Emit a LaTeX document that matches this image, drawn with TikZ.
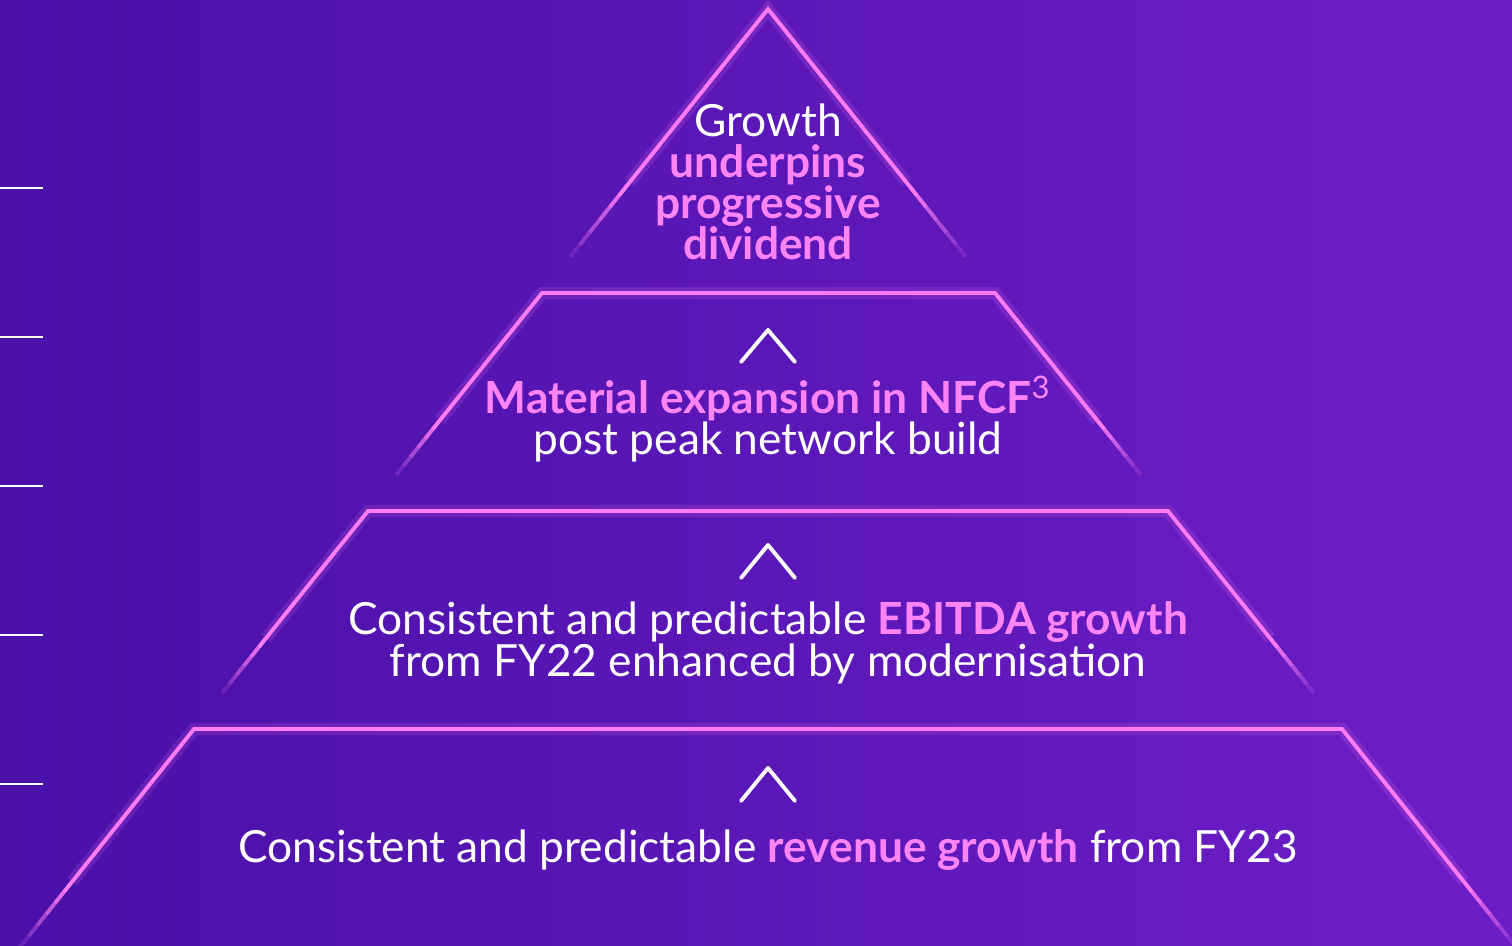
\documentclass[tikz,border=0pt]{standalone}
\usepackage{fontspec}
\setmainfont{Lato}
\usetikzlibrary{calc}

\definecolor{bgleft}{HTML}{4A10A8}
\definecolor{bgright}{HTML}{6C1EC6}
\definecolor{tierpink}{HTML}{FF7CF5}
\definecolor{textpink}{HTML}{FF84F6}

\tikzset{
  tierline/.style={draw=tierpink, line width=1.1pt, line join=miter,
    preaction={draw=tierpink, line width=3.5pt, draw opacity=0.15}},
  tierfade/.style={draw=tierpink, line width=1.1pt},
  chevron/.style={draw=white, line width=1.1pt, line cap=round, line join=round},
  tick/.style={draw=white, line width=0.6pt},
  tiertext/.style={text=white, align=center, inner sep=0pt, anchor=base,
    font=\fontsize{12.6}{11.7}\selectfont},
}
\newcommand{\hl}[1]{\textcolor{textpink}{\bfseries #1}}

% lower end of a tier side, fading out
\newcommand{\tierside}[2]{%
  \foreach \k [evaluate=\k as \a using \k/20, evaluate=\k as \b using (\k+1)/20,
      evaluate=\k as \o using (20-\k)/6] in {14,...,19}
    \draw[tierfade, draw opacity=\o] ($(#1)!\a!(#2)$) -- ($(#1)!\b!(#2)$);
}

\begin{document}
\begin{tikzpicture}[x=0.01cm, y=-0.01cm]
    \useasboundingbox (0,0) rectangle (1512,946);
    \clip (0,0) rectangle (1512,946);
    \shade[left color=bgleft, right color=bgright] (0,0) rectangle (1512,946);

    % ticks on the left edge
    \foreach \y in {188,337,486,635,784}
        \draw[tick] (0,\y) -- (43,\y);

    % Tier 1 (text nodes sit on their last baseline)
    \coordinate (t1top) at (768,9);
    \coordinate (t1bl) at (570,257); \coordinate (t1br) at (966,257);
    \draw[tierline] ($(t1top)!0.7!(t1bl)$) -- (t1top) -- ($(t1top)!0.7!(t1br)$);
    \tierside{t1top}{t1bl} \tierside{t1top}{t1br}
    \node[tiertext] (dividend) at (768,260) {Growth\\\hl{underpins}\\\hl{progressive}\\\hl{dividend}};

    % Tier 2
    \coordinate (t2tl) at (542,293); \coordinate (t2tr) at (995,293);
    \coordinate (t2bl) at (396,475); \coordinate (t2br) at (1141,475);
    \draw[tierline] ($(t2tl)!0.7!(t2bl)$) -- (t2tl) -- (t2tr) -- ($(t2tr)!0.7!(t2br)$);
    \tierside{t2tl}{t2bl} \tierside{t2tr}{t2br}
    \draw[chevron] (741,362) -- (768,330) -- (795,362);
    \node[tiertext] (nfcf) at (768,455) {\hl{Material expansion in NFCF}\textcolor{textpink}{\textsuperscript{3}}\\post peak network build};

    % Tier 3
    \coordinate (t3tl) at (368,511); \coordinate (t3tr) at (1168,511);
    \coordinate (t3bl) at (222,693); \coordinate (t3br) at (1314,693);
    \draw[tierline] ($(t3tl)!0.7!(t3bl)$) -- (t3tl) -- (t3tr) -- ($(t3tr)!0.7!(t3br)$);
    \tierside{t3tl}{t3bl} \tierside{t3tr}{t3br}
    \draw[chevron] (741,578) -- (768,545) -- (795,578);
    \node[tiertext] (ebitda) at (768,676) {Consistent and predictable \hl{EBITDA growth}\\from FY22 enhanced by modernisation};

    % Tier 4
    \coordinate (t4tl) at (194,729); \coordinate (t4tr) at (1342,729);
    \coordinate (t4bl) at (20,947); \coordinate (t4br) at (1516,947);
    \draw[tierline] ($(t4tl)!0.7!(t4bl)$) -- (t4tl) -- (t4tr) -- ($(t4tr)!0.7!(t4br)$);
    \tierside{t4tl}{t4bl} \tierside{t4tr}{t4br}
    \draw[chevron] (741,801) -- (768,768) -- (795,801);
    \node[tiertext] (revenue) at (768,862) {Consistent and predictable \hl{revenue growth} from FY23};
\end{tikzpicture}
\end{document}
